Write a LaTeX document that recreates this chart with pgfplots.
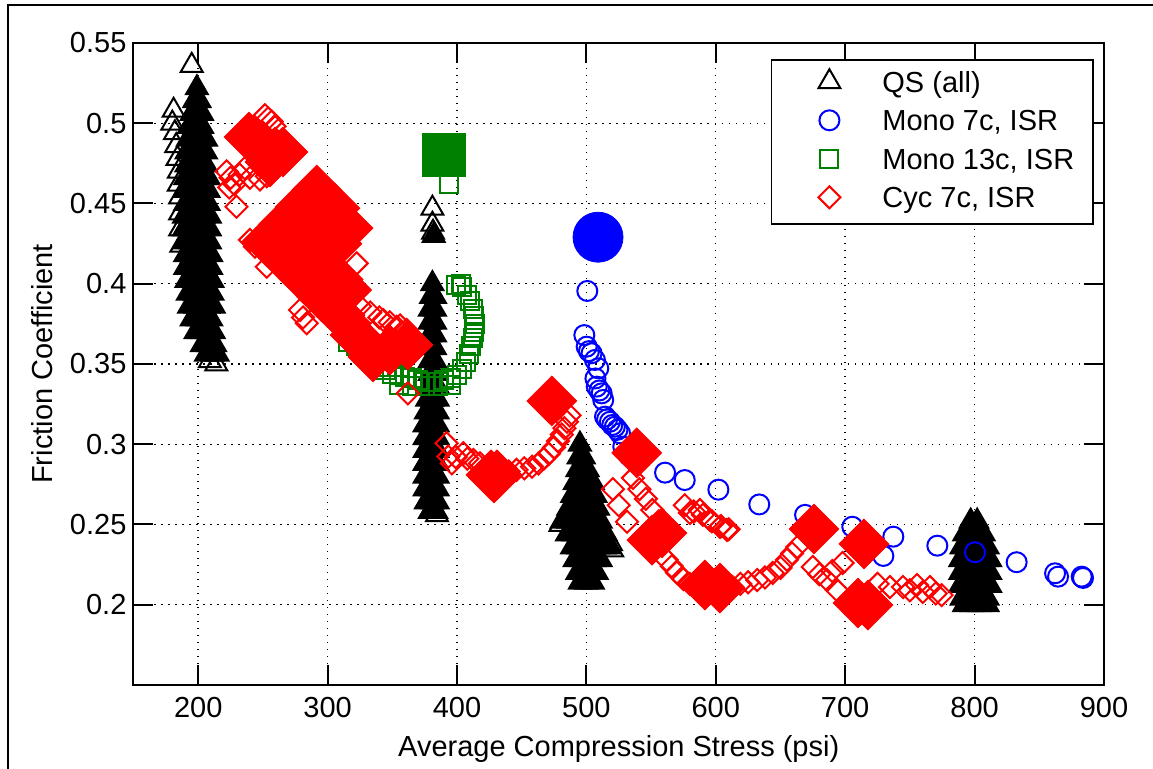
\documentclass[border=0pt]{standalone}
\usepackage{fontspec}
\setmainfont{Liberation Sans}
\usepackage{pgfplots}
\pgfplotsset{compat=1.18}
\definecolor{mgreen}{rgb}{0,0.5,0}
\begin{document}
\begin{tikzpicture}[font=\fontsize{14.5pt}{17pt}\selectfont]
\useasboundingbox (-66.75pt,-42pt) rectangle (509.75pt,342.5pt);
\draw[line width=1pt] (-62.75pt,-42pt) -- (-62.75pt,340pt) -- (509.75pt,340pt);
\begin{axis}[
  at={(0pt,0pt)}, anchor=south west,
  scale only axis, width=485.25pt, height=321pt,
  xmin=150, xmax=900, ymin=0.15, ymax=0.55,
  xtick={200,300,400,500,600,700,800,900},
  xticklabels={200,300,400,500,600,700,800,900},
  ytick={0.2,0.25,0.3,0.35,0.4,0.45,0.5,0.55},
  yticklabels={0.2,0.25,0.3,0.35,0.4,0.45,0.5,0.55},
  /pgf/number format/assume math mode=true,
  tick align=inside, major tick length=10pt,
  every tick/.style={black, line width=1pt},
  axis line style={line width=1pt},
  grid=major,
  major grid style={black, line width=0.7pt, dash pattern=on 0.7pt off 2.8pt},
  xlabel={Average Compression Stress (psi)},
  ylabel={Friction Coefficient},
  x label style={at={(axis description cs:0.5,0)}, anchor=base, yshift=-35.85pt},
  y label style={at={(axis description cs:-0.0943,0.5)}, anchor=center},
  xticklabel style={yshift=-2.5pt},
  legend cell align=left,
  legend style={at={(0.6566,0.9746)}, anchor=north west, draw=black, line width=0.7pt, fill=white,
    inner xsep=7.4pt, inner ysep=4.6pt, row sep=4.75pt,
    nodes={inner xsep=2pt, inner ysep=0pt, text height=11pt, text depth=3.5pt}},
  legend image code/.code={\path[draw=none,fill=none] (-21.6pt,-5pt) rectangle (24.5pt,5pt); \draw[#1,/tikz/only marks] plot coordinates {(0pt,1.4pt)};},
]
% QS core (dense overlapping triangles)
\addplot[only marks, mark=triangle*, mark size=6.3pt, line width=1pt, color=black, forget plot] coordinates {
(199,0.522)
(197,0.514)(201,0.514)
(195,0.506)(199,0.506)(203,0.506)
(193,0.498)(198,0.498)(203,0.498)
(192,0.490)(197,0.490)(202,0.490)(206,0.490)
(191,0.482)(196,0.482)(201,0.482)(206,0.482)
(191,0.474)(196,0.474)(201,0.474)(206,0.474)
(190,0.466)(195,0.466)(200,0.466)(205,0.466)(208,0.466)
(190,0.458)(195,0.458)(200,0.458)(205,0.458)(208,0.458)
(190,0.450)(195,0.450)(200,0.450)(205,0.450)(208,0.450)
(189,0.442)(194,0.442)(199,0.442)(204,0.442)(209,0.442)
(189,0.434)(194,0.434)(199,0.434)(204,0.434)(209,0.434)
(189,0.426)(194,0.426)(199,0.426)(204,0.426)(209,0.426)
(190,0.418)(195,0.418)(200,0.418)(205,0.418)(210,0.418)
(190,0.410)(195,0.410)(200,0.410)(205,0.410)(210,0.410)
(191,0.402)(196,0.402)(201,0.402)(206,0.402)(211,0.402)
(192,0.394)(197,0.394)(202,0.394)(207,0.394)(211,0.394)
(193,0.386)(198,0.386)(203,0.386)(208,0.386)(212,0.386)
(195,0.378)(200,0.378)(205,0.378)(210,0.378)
(198,0.370)(203,0.370)(208,0.370)(212,0.370)
(203,0.362)(208,0.362)(213,0.362)
(206,0.356)(211,0.356)(215,0.356)
(382,0.430)
(381,0.400)
(380,0.392)(383,0.392)
(379,0.384)(383,0.384)
(379,0.376)(383,0.376)
(379,0.368)(383,0.368)
(379,0.360)(383,0.360)
(379,0.352)(383,0.352)
(379,0.344)(383,0.344)
(378,0.336)(382,0.336)(385,0.336)
(377,0.328)(381,0.328)(385,0.328)
(376,0.320)(380,0.320)(385,0.320)
(375,0.312)(380,0.312)(385,0.312)
(375,0.304)(380,0.304)(385,0.304)
(375,0.296)(380,0.296)(385,0.296)
(375,0.288)(380,0.288)(385,0.288)
(375,0.280)(380,0.280)(385,0.280)
(375,0.272)(380,0.272)(385,0.272)
(376,0.264)(381,0.264)(385,0.264)
(379,0.258)(384,0.258)
(495,0.300)
(494,0.292)(498,0.292)
(493,0.284)(497,0.284)(501,0.284)
(491,0.276)(496,0.276)(501,0.276)(505,0.276)
(489,0.268)(494,0.268)(499,0.268)(504,0.268)(507,0.268)
(486,0.260)(491,0.260)(496,0.260)(501,0.260)(506,0.260)(509,0.260)
(481,0.252)(486,0.252)(491,0.252)(496,0.252)(501,0.252)(506,0.252)(511,0.252)
(485,0.244)(490,0.244)(495,0.244)(500,0.244)(505,0.244)(510,0.244)(515,0.244)
(489,0.236)(494,0.236)(499,0.236)(504,0.236)(509,0.236)(514,0.236)(518,0.236)
(491,0.228)(496,0.228)(501,0.228)(506,0.228)(511,0.228)
(493,0.220)(498,0.220)(503,0.220)(508,0.220)
(495,0.214)(500,0.214)(505,0.214)
(797,0.252)(802,0.252)
(792,0.244)(797,0.244)(802,0.244)(807,0.244)
(790,0.236)(795,0.236)(800,0.236)(805,0.236)(810,0.236)
(789,0.228)(794,0.228)(799,0.228)(804,0.228)(809,0.228)(812,0.228)
(789,0.220)(794,0.220)(799,0.220)(804,0.220)(809,0.220)(812,0.220)
(789,0.212)(794,0.212)(799,0.212)(804,0.212)(809,0.212)(812,0.212)
(790,0.204)(795,0.204)(800,0.204)(805,0.204)(810,0.204)
(792,0.200)(798,0.200)(804,0.200)(810,0.200)
};
% QS open
\addplot[only marks, mark=triangle, mark size=6.3pt, line width=1pt, color=black] coordinates {
(195,0.536)(181,0.508)(180,0.500)(182,0.494)(183,0.486)(184,0.478)(185,0.470)
(185,0.462)(186,0.454)(186,0.444)(186,0.434)(187,0.424)(214,0.350)(209,0.352)
(381,0.447)(381,0.437)(381.5,0.432)(384.5,0.256)
(480,0.250)(519,0.238)(520,0.234)
};
\addlegendentry{QS (all)}
% Mono 7c
\addplot[only marks, mark=o, mark size=5pt, line width=1pt, color=blue] coordinates {
(500.7,0.3955)(498.4,0.368)(500.2,0.3608)(502,0.358)(504,0.3567)(506.6,0.3525)(509.2,0.3473)
(507,0.341)(508,0.3359)(510,0.3335)(511.8,0.3317)(513,0.3276)(514.4,0.3172)(516,0.3155)
(518.2,0.314)(520,0.312)(522,0.3109)(524,0.309)(526,0.3068)(528.5,0.2985)(533,0.293)
(560.8,0.2823)(576,0.2777)(602,0.2717)(633.6,0.2625)(669,0.256)(705.5,0.2486)
(737.2,0.2424)(729.5,0.2304)(771.2,0.2368)(800.3,0.2327)(832.5,0.2265)(862.2,0.2196)
(864.5,0.2175)(882.8,0.2175)(883.8,0.2167)
};
\addlegendentry{Mono 7c, ISR}
\addplot[only marks, mark=*, mark size=12.5pt, color=blue, forget plot] coordinates {(509,0.429)};
% Mono 13c
\addplot[only marks, mark=square, mark size=4.5pt, line width=1pt, color=mgreen] coordinates {
(316,0.364)(322,0.361)(328,0.357)(334,0.352)(340,0.348)(345,0.346)(350,0.344)(355,0.343)
(360,0.342)(365,0.341)(370,0.340)(375,0.339)(380,0.339)(385,0.339)(390,0.340)(395,0.341)
(355,0.337)(365,0.336)(375,0.336)(385,0.336)(395,0.337)(400,0.343)(404,0.347)(407,0.351)
(409,0.356)(411,0.361)(412,0.366)(413,0.370)(414,0.375)(413,0.380)(412,0.384)(410,0.389)
(408,0.393)(404,0.398)(399,0.399)(403,0.400)(393.8,0.462)
};
\addlegendentry{Mono 13c, ISR}
\addplot[only marks, mark=square*, mark size=10.75pt, color=mgreen, forget plot] coordinates {(390,0.4804)};
% Cyc 7c
\addplot[only marks, mark=square, mark size=3.9pt, mark options={rotate=45}, line width=1pt, color=red] coordinates {
(251.6,0.505)(256.8,0.501)(254,0.503)(259,0.498)
(222,0.470)(225,0.466)(228,0.462)(224,0.460)(229.6,0.448)(232,0.468)(236,0.472)(240,0.466)
(247.7,0.465)(253,0.467)
(240,0.4273)(243.9,0.4231)(253,0.4106)(278.7,0.3836)(283.9,0.3754)(281,0.379)
(322.5,0.4127)
(325,0.386)(333,0.382)(340,0.379)(343,0.3774)(348,0.376)(353.4,0.3732)(361.1,0.3712)(356,0.374)
(362,0.3317)
(392,0.3006)(393.3,0.2923)(396,0.2881)(399,0.292)(404.9,0.2944)(408,0.291)(412.6,0.2902)
(417.8,0.2881)(421,0.284)
(440,0.283)(446,0.284)(452,0.285)(458,0.286)(463,0.288)(467,0.291)(471,0.294)(475,0.298)
(478,0.302)(481,0.306)(483,0.310)(485,0.314)(487,0.318)
(520.5,0.272)(525,0.262)(531.4,0.2517)(536,0.279)(541,0.272)(546,0.266)(551,0.259)
(556,0.252)(561,0.247)(565,0.245)
(576,0.262)(583,0.258)(590,0.256)(597,0.252)(604,0.249)(610,0.247)
(580,0.2572)(587.7,0.259)(595.5,0.2528)(603.2,0.2485)(608.6,0.2466)
(562,0.228)(566,0.224)(570,0.220)(575,0.216)(580,0.213)(585,0.211)
(613,0.211)(619,0.213)(625,0.214)(632,0.2154)(638,0.217)(644,0.2198)(650,0.223)(655,0.228)
(659,0.232)(663,0.236)
(675,0.2235)(680,0.219)(686,0.2154)(693.5,0.2092)(698,0.226)(690,0.221)
(725,0.213)(734.6,0.211)(744.7,0.211)(750,0.209)(755.5,0.2123)(760,0.208)(765.5,0.211)
(770,0.207)(774.5,0.206)
};
\addlegendentry{Cyc 7c, ISR}
\addplot[only marks, mark=square*, mark size=8.8pt, mark options={rotate=45}, color=red, forget plot] coordinates {
(239.3,0.4914)(249.3,0.4865)(259.4,0.4821)(265.5,0.4821)(255.5,0.4759)
(252.9,0.4262)(267.1,0.4148)(281.2,0.4034)(295.4,0.3919)(309.6,0.3805)
(265.7,0.4369)(279.8,0.4255)(294.0,0.4140)(308.2,0.4026)
(278.8,0.4478)(293.0,0.4364)(307.2,0.4249)
(291.6,0.4584)(305.7,0.4470)(315.8,0.4347)
(314.8,0.3961)(301.9,0.3899)
(321.2,0.3681)(335.1,0.3544)(348.2,0.3587)(362.1,0.3618)
(473.3,0.327)(538.9,0.2946)
(426.3,0.2809)(430.9,0.2809)(428.6,0.279)
(558.4,0.2447)(550.7,0.2403)
(591.6,0.2123)(603.2,0.2104)
(675.9,0.2472)(714.5,0.2379)
(709.9,0.2011)(717.6,0.1998)
};
\end{axis}
\end{tikzpicture}
\end{document}
